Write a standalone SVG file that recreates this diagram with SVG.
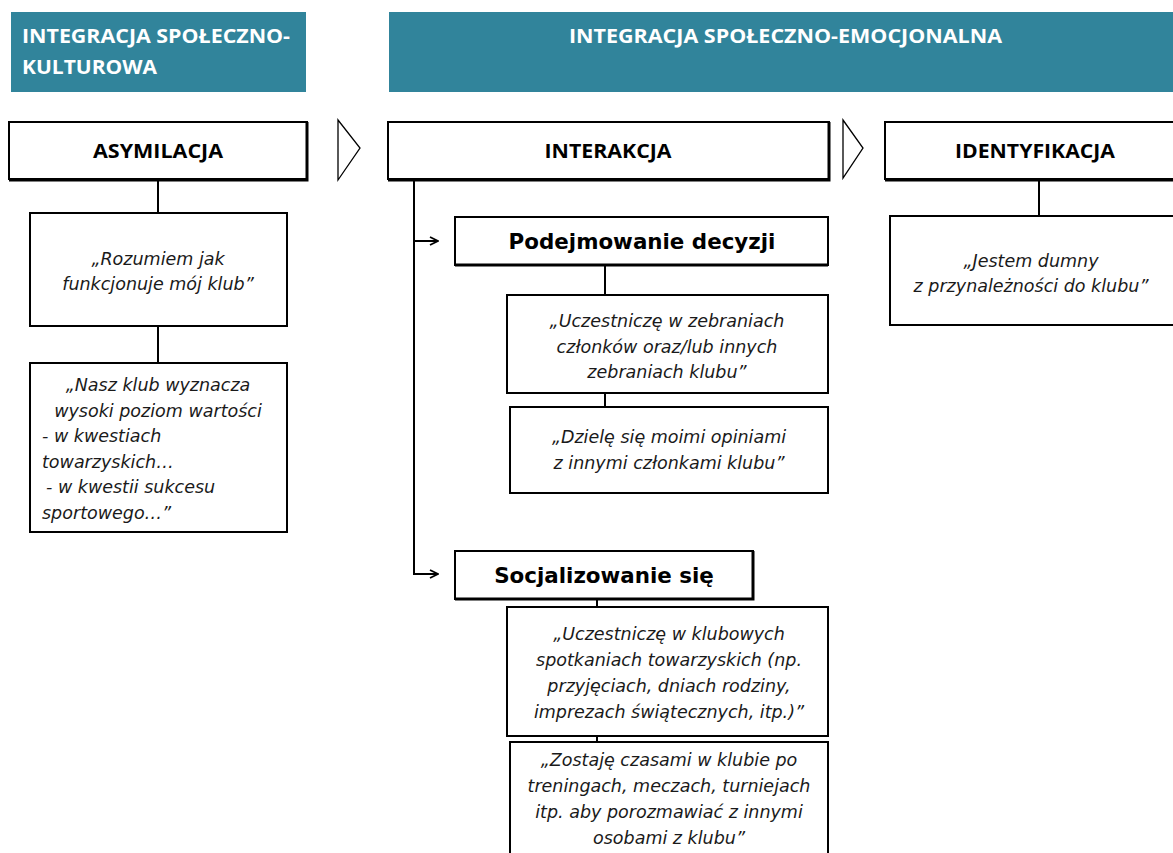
<svg xmlns="http://www.w3.org/2000/svg" width="1173" height="853" viewBox="0 0 1173 853">
<style>
.hdr{fill:#31849B}
.hdrt{fill:#fff;font-family:"Open Sans","Liberation Sans",sans-serif;font-weight:bold;font-size:20px}
.box{fill:#fff;stroke:#000;stroke-width:2}
.sh{fill:none;stroke:#000;stroke-width:3}
.t1{font-family:"Open Sans","Liberation Sans",sans-serif;font-weight:bold;font-size:19px;fill:#000;text-anchor:middle}
.t2{font-family:"DejaVu Sans","Liberation Sans",sans-serif;font-weight:bold;font-size:21.4px;fill:#000;text-anchor:middle}
.q{font-family:"DejaVu Sans","Liberation Sans",sans-serif;font-style:italic;font-size:17.5px;fill:#1a1a1a;text-anchor:middle}
.ql{font-family:"DejaVu Sans","Liberation Sans",sans-serif;font-style:italic;font-size:17.5px;fill:#1a1a1a}
.ln{fill:none;stroke:#000;stroke-width:2}
.chev{fill:#fff;stroke:#000;stroke-width:1.3}
</style>
<defs>
<marker id="arr" viewBox="0 0 10 10" refX="9" refY="5" markerWidth="10" markerHeight="10" markerUnits="userSpaceOnUse" orient="auto">
<path d="M1,1 L9,5 L1,9" fill="none" stroke="#000" stroke-width="1.8"/>
</marker>
</defs>

<g id="header-kulturowa">
<rect class="hdr" x="11" y="12" width="295" height="80"/>
<text class="hdrt" x="22" y="43" textLength="268" lengthAdjust="spacingAndGlyphs">INTEGRACJA SPOŁECZNO-</text>
<text class="hdrt" x="22" y="74" textLength="135" lengthAdjust="spacingAndGlyphs">KULTUROWA</text>
</g>
<g id="header-emocjonalna">
<rect class="hdr" x="389" y="12" width="784" height="80"/>
<text class="hdrt" x="569" y="43" textLength="433" lengthAdjust="spacingAndGlyphs">INTEGRACJA SPOŁECZNO-EMOCJONALNA</text>
</g>

<g id="connectors">
<path class="ln" d="M158,180 V213"/>
<path class="ln" d="M158,326 V363"/>
<path class="ln" d="M414,180 V574 H438" marker-end="url(#arr)"/>
<path class="ln" d="M414,241 H438" marker-end="url(#arr)"/>
<path class="ln" d="M605,265 V295"/>
<path class="ln" d="M605,393 V407"/>
<path class="ln" d="M597,599 V607"/>
<path class="ln" d="M597,736 V742"/>
<path class="ln" d="M1039,180 V216"/>
</g>

<g id="chevron1"><polygon class="chev" points="338,120 360,148 338,180"/></g>
<g id="chevron2"><polygon class="chev" points="843,120 863,148 843,178"/></g>

<g id="asymilacja">
<rect class="box" x="9" y="122" width="298" height="57"/>
<path class="sh" d="M9,180 H307 V122"/>
<text class="t1" x="158" y="158" textLength="130" lengthAdjust="spacingAndGlyphs">ASYMILACJA</text>
</g>
<g id="interakcja">
<rect class="box" x="388" y="122" width="441" height="57"/>
<path class="sh" d="M388,180 H829 V122"/>
<text class="t1" x="608" y="158" textLength="127" lengthAdjust="spacingAndGlyphs">INTERAKCJA</text>
</g>
<g id="identyfikacja">
<rect class="box" x="885" y="122" width="295" height="57"/>
<path class="sh" d="M885,180 H1180"/>
<text class="t1" x="1035" y="158" textLength="160" lengthAdjust="spacingAndGlyphs">IDENTYFIKACJA</text>
</g>

<g id="rozumiem">
<rect class="box" x="30" y="213" width="257" height="113"/>
<text class="q" x="158" y="265">„Rozumiem jak</text>
<text class="q" x="158" y="290">funkcjonuje mój klub”</text>
</g>
<g id="nasz-klub">
<rect class="box" x="30" y="363" width="257" height="169"/>
<text class="q" x="158" y="391">„Nasz klub wyznacza</text>
<text class="q" x="158" y="417">wysoki poziom wartości</text>
<text class="ql" x="42" y="442">- w kwestiach</text>
<text class="ql" x="42" y="468">towarzyskich…</text>
<text class="ql" x="46" y="493">- w kwestii sukcesu</text>
<text class="ql" x="42" y="519">sportowego…”</text>
</g>

<g id="podejmowanie">
<rect class="box" x="455" y="217" width="373" height="48"/>
<path class="sh" d="M455,265 H828"/>
<text class="t2" x="642" y="249">Podejmowanie decyzji</text>
</g>
<g id="zebrania">
<rect class="box" x="507" y="295" width="321" height="98"/>
<text class="q" x="667" y="327">„Uczestniczę w zebraniach</text>
<text class="q" x="667" y="353">członków oraz/lub innych</text>
<text class="q" x="667" y="378">zebraniach klubu”</text>
</g>
<g id="opinie">
<rect class="box" x="510" y="407" width="318" height="86"/>
<text class="q" x="669" y="443">„Dzielę się moimi opiniami</text>
<text class="q" x="669" y="469">z innymi członkami klubu”</text>
</g>

<g id="socjalizowanie">
<rect class="box" x="455" y="551" width="298" height="48"/>
<path class="sh" d="M455,599 H753 V551"/>
<text class="t2" x="604" y="583">Socjalizowanie się</text>
</g>
<g id="spotkania">
<rect class="box" x="507" y="607" width="321" height="129"/>
<text class="q" x="669" y="640">„Uczestniczę w klubowych</text>
<text class="q" x="669" y="666">spotkaniach towarzyskich (np.</text>
<text class="q" x="669" y="692">przyjęciach, dniach rodziny,</text>
<text class="q" x="669" y="718">imprezach świątecznych, itp.)”</text>
</g>
<g id="zostaje">
<rect class="box" x="510" y="742" width="318" height="120"/>
<text class="q" x="669" y="766">„Zostaję czasami w klubie po</text>
<text class="q" x="669" y="792">treningach, meczach, turniejach</text>
<text class="q" x="669" y="818">itp. aby porozmawiać z innymi</text>
<text class="q" x="669" y="844">osobami z klubu”</text>
</g>

<g id="dumny">
<rect class="box" x="890" y="216" width="290" height="109"/>
<text class="q" x="1031" y="267">„Jestem dumny</text>
<text class="q" x="1031" y="292">z przynależności do klubu”</text>
</g>
</svg>
